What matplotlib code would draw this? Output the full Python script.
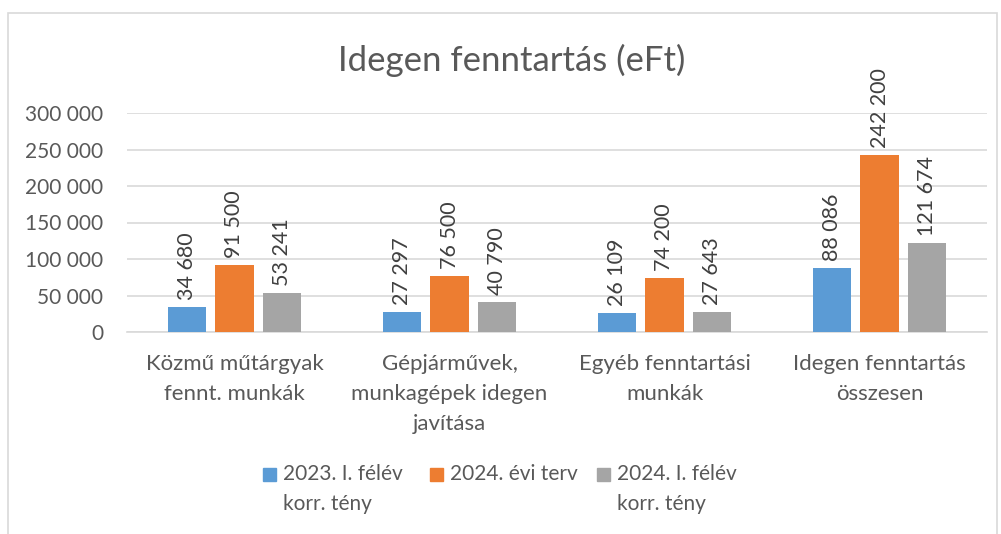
import matplotlib
matplotlib.use('Agg')
import matplotlib.pyplot as plt
import numpy as np
from matplotlib.patches import Rectangle
from matplotlib.ticker import FuncFormatter

plt.rcParams['font.family'] = ['Lato', 'DejaVu Sans']

categories = ["Közmű műtárgyak\nfennt. munkák",
              "Gépjárművek,\nmunkagépek idegen\njavítása",
              "Egyéb fenntartási\nmunkák",
              "Idegen fenntartás\nösszesen"]
series_names = ["2023. I. félév\nkorr. tény", "2024. évi terv", "2024. I. félév\nkorr. tény"]
values_2023 = [34680, 27297, 26109, 88086]
values_2024_plan = [91500, 76500, 74200, 242200]
values_2024_h1 = [53241, 40790, 27643, 121674]
colors = ['#5B9BD5', '#ED7D31', '#A5A5A5']
text_color = '#595959'

W, H = 1001, 534
fig = plt.figure(figsize=(W / 100, H / 100), dpi=100)

# outer chart frame
fig.patches.append(Rectangle((8 / W, -0.05), (997 - 8) / W, 1.05 - 13 / H,
                             transform=fig.transFigure, fill=False,
                             edgecolor='#d9d9d9', lw=1.2))

ax = fig.add_axes([127 / W, 1 - 332 / H, 860 / W, (332 - 113) / H])

x = np.arange(len(categories))
bw = 0.177
offsets = [-0.223, 0, 0.223]
all_series = [values_2023, values_2024_plan, values_2024_h1]
for vals, off, c in zip(all_series, offsets, colors):
    bars = ax.bar(x + off, vals, bw, color=c, zorder=3)
    for b, v in zip(bars, vals):
        ax.annotate(f"{v:,}".replace(",", " "),
                    (b.get_x() + b.get_width() / 2, v),
                    xytext=(0, 5), textcoords='offset points',
                    rotation=90, ha='center', va='bottom',
                    fontsize=15.5, color='#404040')

ax.set_xlim(-0.5, len(categories) - 0.5)
ax.set_ylim(0, 300000)
ax.set_yticks(np.arange(0, 300001, 50000))
ax.yaxis.set_major_formatter(FuncFormatter(lambda v, p: f"{int(v):,}".replace(",", " ")))
ax.set_xticks(x)
ax.set_xticklabels(categories, linespacing=1.62, fontsize=16)
ax.tick_params(axis='both', length=0, colors=text_color)
ax.tick_params(axis='y', labelsize=15, pad=17)
ax.tick_params(axis='x', pad=16)
ax.yaxis.grid(True, color='#d9d9d9', lw=1.2, zorder=0)
for s in ['top', 'right', 'left']:
    ax.spines[s].set_visible(False)
ax.spines['bottom'].set_color('#d9d9d9')
ax.spines['bottom'].set_linewidth(1.2)

fig.text(512 / W, 1 - 60 / H, "Idegen fenntartás (eFt)", ha='center', va='center',
         fontsize=25, color=text_color)

# legend drawn by hand so the marker sits on the first line
leg_x = [263, 430, 597]
for name, c, lx in zip(series_names, colors, leg_x):
    fig.patches.append(Rectangle((lx / W, 1 - 481 / H), 13 / W, 13 / H,
                                 transform=fig.transFigure, color=c))
    fig.text((lx + 20) / W, 1 - 464 / H, name, ha='left', va='top',
             fontsize=15, color=text_color, linespacing=1.6)

fig.savefig('out.png', dpi=100)
